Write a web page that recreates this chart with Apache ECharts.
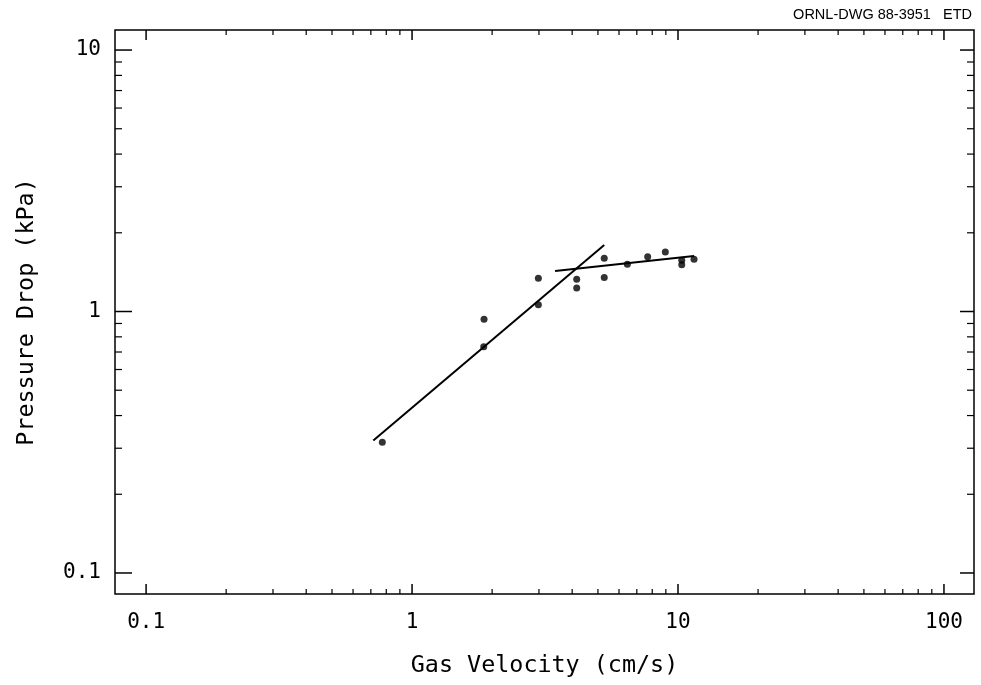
<!DOCTYPE html>
<html><head><meta charset="utf-8">
<script src="https://cdn.jsdelivr.net/npm/echarts@6/dist/echarts.min.js"></script>
<style>html,body{margin:0;padding:0;background:#fff}#c{width:981px;height:685px}</style>
</head><body><div id="c"></div>
<script>
// ---- data ----
const xRange = [0.0764, 129.7];
const yRange = [0.0831, 11.93];
const xMajorTicks = [0.1, 1, 10, 100];
const xTickLabels = ['0.1', '1', '10', '100'];
const xMinorTicks = [0.2,0.3,0.4,0.5,0.6,0.7,0.8,0.9, 2,3,4,5,6,7,8,9, 20,30,40,50,60,70,80,90];
const yMajorTicks = [0.1, 1, 10];
const yTickLabels = ['0.1', '1', '10'];
const yMinorTicks = [0.2,0.3,0.4,0.5,0.6,0.7,0.8,0.9, 2,3,4,5,6,7,8,9];
const gasVelocity  = [0.773, 1.865, 1.86, 2.985, 2.985, 4.16, 4.16, 5.28, 5.28, 6.45, 7.69, 8.96, 10.33, 10.33, 11.49];
const pressureDrop = [0.316, 0.934, 0.733, 1.34, 1.062, 1.328, 1.23, 1.598, 1.35, 1.515, 1.62, 1.689, 1.57, 1.51, 1.584];
const fitLowX  = [0.715, 5.28];
const fitLowY  = [0.321, 1.796];
const fitHighX = [3.45, 11.49];
const fitHighY = [1.429, 1.63];
const xTitle = 'Gas Velocity (cm/s)';
const yTitle = 'Pressure Drop (kPa)';
const drawingId = 'ORNL-DWG 88-3951   ETD';

// ---- chart ----
const chart = echarts.init(document.getElementById('c'), null, {renderer: 'canvas'});
const monoFont = 'DejaVu Sans Mono';

function labelFor(v, ticks, labels) {
  for (let i = 0; i < ticks.length; i++) {
    if (Math.abs(v - ticks[i]) / ticks[i] < 1e-6) return labels[i];
  }
  return '';
}

function tickSeries(values, side, len, lw) {
  const data = values.map(v => (side === 'bottom' ? [v, yRange[0]] :
                                side === 'top' ? [v, yRange[1]] :
                                side === 'left' ? [xRange[0], v] : [xRange[1], v]));
  return {
    type: 'custom', coordinateSystem: 'cartesian2d', silent: true, clip: false,
    data: data,
    renderItem: function (params, api) {
      const p = api.coord([api.value(0), api.value(1)]);
      let shape;
      if (side === 'bottom') shape = {x1: p[0], y1: p[1], x2: p[0], y2: p[1] - len};
      else if (side === 'top') shape = {x1: p[0], y1: p[1], x2: p[0], y2: p[1] + len};
      else if (side === 'left') shape = {x1: p[0], y1: p[1], x2: p[0] + len, y2: p[1]};
      else shape = {x1: p[0], y1: p[1], x2: p[0] - len, y2: p[1]};
      return {type: 'line', shape: shape, style: {stroke: '#000', lineWidth: lw}};
    },
    z: 3
  };
}

const option = {
  animation: false,
  backgroundColor: '#fff',
  grid: {left: 115, right: 7, top: 30, bottom: 91, show: true, borderColor: '#000', borderWidth: 1.5, backgroundColor: 'transparent'},
  graphic: [{
    type: 'text', right: 9, top: 7,
    style: {text: drawingId, fill: '#000', font: '14.5px "Liberation Sans", Arial, sans-serif'}
  }],
  xAxis: {
    type: 'log', logBase: 10, min: xRange[0], max: xRange[1],
    axisLine: {show: false}, axisTick: {show: false}, splitLine: {show: false}, minorTick: {show: false},
    axisLabel: {
      margin: 18, color: '#000', fontFamily: monoFont, fontSize: 21,
      showMinLabel: false, showMaxLabel: false,
      formatter: v => labelFor(v, xMajorTicks, xTickLabels)
    },
    name: xTitle, nameLocation: 'middle', nameGap: 60,
    nameTextStyle: {color: '#000', fontFamily: monoFont, fontSize: 23.4}
  },
  yAxis: {
    type: 'log', logBase: 10, min: yRange[0], max: yRange[1],
    axisLine: {show: false}, axisTick: {show: false}, splitLine: {show: false}, minorTick: {show: false},
    axisLabel: {
      margin: 14, color: '#000', fontFamily: monoFont, fontSize: 21,
      showMinLabel: false, showMaxLabel: false,
      formatter: v => labelFor(v, yMajorTicks, yTickLabels)
    },
    name: yTitle, nameLocation: 'middle', nameGap: 77, nameRotate: 90,
    nameTextStyle: {color: '#000', fontFamily: monoFont, fontSize: 23.4}
  },
  series: [
    tickSeries(xMajorTicks, 'bottom', 10, 1.5),
    tickSeries(xMinorTicks, 'bottom', 5, 1.2),
    tickSeries(xMajorTicks, 'top', 10, 1.5),
    tickSeries(xMinorTicks, 'top', 5, 1.2),
    tickSeries(yMajorTicks, 'left', 17, 1.5),
    tickSeries(yMinorTicks, 'left', 7, 1.2),
    tickSeries(yMajorTicks, 'right', 14, 1.5),
    tickSeries(yMinorTicks, 'right', 7, 1.2),
    {
      type: 'line', data: fitLowX.map((x, i) => [x, fitLowY[i]]),
      symbol: 'none', lineStyle: {color: '#000', width: 2}, silent: true, z: 2
    },
    {
      type: 'line', data: fitHighX.map((x, i) => [x, fitHighY[i]]),
      symbol: 'none', lineStyle: {color: '#000', width: 2}, silent: true, z: 2
    },
    {
      type: 'scatter', data: gasVelocity.map((x, i) => [x, pressureDrop[i]]),
      symbol: 'circle', symbolSize: 7, itemStyle: {color: '#000'}, z: 4
    }
  ]
};
chart.setOption(option);
</script>
</body></html>
